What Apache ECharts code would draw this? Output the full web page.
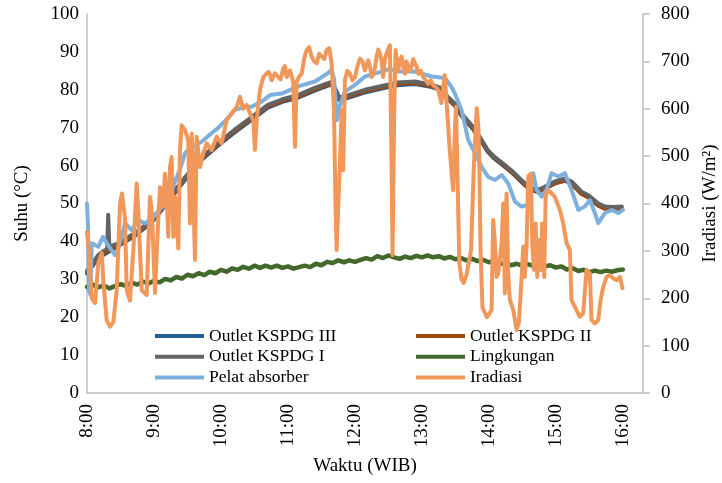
<!DOCTYPE html>
<html>
<head>
<meta charset="utf-8">
<script src="https://cdn.jsdelivr.net/npm/echarts@6/dist/echarts.min.js"></script>
<style>html,body{margin:0;padding:0;background:#fff}#c{width:722px;height:483px}</style>
</head>
<body>
<div id="c"></div>
<script>
// time in minutes after midnight
const xTickLabels = ['8:00','9:00','10:00','11:00','12:00','13:00','14:00','15:00','16:00'];

const out3T = [480,490,508,523,538,552,568,583,597,612,628,642,655,669,684,699,706,714,729,744,758,774,789,797,803,809,816,825,832,839,845,854,861,869,877,884,890,899,908,914,923,929,938,944,951,959];
const out3V = [31.5,35.6,38.8,41.5,45,50.2,56.3,61.6,65.2,68.7,72.2,75.3,76.8,77.9,79.8,81.4,77.3,77.9,79.3,80.3,81.2,81.5,80.7,79.9,77.6,75.9,72.9,69.9,67,63.6,61.8,59.7,58,55.7,53.7,53.1,53.9,55.3,56.1,55.3,52.6,51.7,49.5,48.8,48.7,48.8];

const out2T = [480,490,508,523,538,552,568,583,597,612,628,642,655,669,684,699,706,714,729,744,758,774,789,797,803,809,816,825,832,839,845,854,861,869,877,884,890,899,908,914,923,929,938,944,951,959];
const out2V = [31.9,36,39.1,41.8,45.3,50.5,56.6,61.9,65.5,69,72.5,75.6,77.1,78.2,80.1,81.7,77.6,78.2,79.6,80.6,81.5,81.8,80.9,80.1,77.8,76.1,73.1,70.1,67.1,63.8,62,59.9,58.1,55.8,53.6,53,54,55.3,56,55.2,52.5,51.6,49.4,48.6,48.5,48.6];

const out1T = [480,490,495,498,499,500,508,523,538,552,568,583,597,612,628,642,655,669,684,699,702,706,714,729,744,758,774,789,797,803,809,816,825,832,839,845,854,861,869,877,884,890,899,908,914,923,929,938,944,951,959];
const out1V = [32.3,36.4,37.5,38,47,38.6,39.5,42.2,45.6,50.9,57,62.3,65.9,69.4,72.9,76,77.5,78.6,80.5,82.1,80.5,78,78.6,80,81,81.9,82.2,81.3,80.5,78.2,76.5,73.5,70.5,67.5,64.1,62.3,60.2,58.5,56.2,54.2,53.6,54.4,55.8,56.6,55.8,53.1,52.2,50,49.2,49.1,49.2];

const lingT = [480,485,490,495,500,505,510,515,520,525,530,535,540,545,550,555,560,565,570,575,580,585,590,595,600,605,610,615,620,625,630,635,640,645,650,655,660,665,670,675,680,685,690,695,700,705,710,715,720,725,730,735,740,745,750,755,760,765,770,775,780,785,790,795,800,805,810,815,820,825,830,835,840,845,850,855,860,865,870,875,880,885,890,895,900,905,910,915,920,925,930,935,940,945,950,955,960];
const lingV = [28.0,28.6,27.9,28.4,27.6,28.2,28.7,28.3,29.1,28.6,29.4,28.9,29.6,29.2,30.1,29.7,30.6,30.2,31.2,30.8,31.6,31.1,32.0,31.6,32.5,32.0,32.9,32.5,33.3,32.8,33.6,33.0,33.6,33.1,33.6,33.0,33.4,32.8,33.2,33.6,33.2,34.1,33.7,34.6,34.3,35.0,34.5,35.0,34.6,35.1,35.6,35.2,36.1,35.6,36.3,35.8,35.4,36.0,35.6,36.2,35.8,36.3,35.8,36.1,35.5,35.9,35.3,35.6,35.0,35.4,34.8,35.1,34.5,34.8,34.0,34.3,33.7,34.1,33.6,34.0,33.5,33.9,33.4,33.7,33.1,33.4,32.6,32.9,32.2,32.5,31.9,32.3,31.9,32.3,32.0,32.4,32.6];

const pelatT = [480,480.9,481.8,483.1,484.2,490.1,494.3,498.8,505.1,507.8,514,520,525.7,531.9,538.2,545.4,552.5,558.8,563.3,567.8,573.8,582.7,591.7,597.3,604.5,612.5,621.5,627.5,636.4,643.9,654.4,669,684.2,695.8,699.1,701.2,703.9,706.6,711,720,729,743.9,751.3,758.5,773.7,788.7,800.6,806,809.5,815.5,821.4,827.5,833.4,839.4,845.4,851.4,857.3,863.3,869.3,875.2,879.7,882.7,887.2,891.6,896.1,902.1,908,914,920,926,930.4,934.9,937.9,944,949.9,955.9,960];
const pelatV = [50,44,27,26,39.5,38.6,41.2,39,36.4,37.7,44.8,43,45.6,44.8,46,48.5,51,55.8,59,63.3,65,66.3,68.6,69.9,72,74.7,75.5,75.5,76.9,78.6,79,80.9,82.2,84.4,85.2,83,72,76,79.5,81.3,83.5,84.8,85.5,84.8,84.8,83.5,83.1,81,79,74.7,66.8,63.3,59.7,57,56.2,57.5,55.3,50.5,49.2,49.6,58,53.6,51.8,53.6,58,57.1,58,53.6,48.3,49.2,50.9,47.5,44.8,47.5,48.3,47.5,48.3];

const iradT = [480,481.8,484.2,487.2,490.1,493.2,494.6,497.6,500.6,503.6,506.6,509.6,511.3,514,515.6,518.5,521.5,524.5,525.9,529,533.5,536.4,538.2,540.9,543.9,545.4,548.3,549.8,551.4,552.8,554.3,555.8,557.3,558.8,561.8,563.3,564.8,567.8,570.7,572.2,573.8,574.9,576.7,578.2,581.2,584.1,587.2,591.7,596.1,600.6,605.1,609.6,614.1,617,620,623,626,628.9,630.4,632,634.9,637.9,642.4,644,645.4,648.3,651.3,653.5,655.8,657.3,658.8,660.3,661.8,663.2,664.7,666.3,667.8,670,672.3,674.5,676.7,679,681.2,683.5,685.7,688,690.2,692.5,694.7,697,699.1,701.2,702.7,703.6,705,706.6,708.1,709.5,711,713.2,715.5,717.7,720,722.3,724.5,726.7,728.9,731.9,733.4,734.9,737.1,739.4,740.9,742.4,743.9,745.3,746.8,748.4,750,751.3,752.7,753.7,755.2,756.4,758.8,760.3,761.8,763.3,764.8,766.2,767.7,769.2,770.8,772.2,773.7,775.2,776.7,779,781.2,783.4,785.6,787.9,790.1,792.3,794.6,797.4,800.4,802.5,804.9,807.9,809.4,810.5,812,813.5,815.5,817.3,820,824,826.5,829.1,830.6,831.5,832.5,834.2,838.2,842.4,843.8,845.4,846.9,848.3,851.4,852.8,854.3,855.8,857.3,858.8,861.8,864.8,866.9,869.3,870.7,872.2,873.8,875.2,877.6,878.8,880.3,881.8,883.3,884.8,886.6,887.7,889.5,890.8,892.2,894.6,899.1,903.6,906.5,909.6,912.5,914,917,921.5,924.4,927.5,930.4,931.9,934.9,937.9,940,942.4,945.4,948.4,951.3,954.4,957.3,959.7];
const iradV = [340,300,200,190,274,295,238,154,140,150,217,400,421,370,217,195,300,442,386,217,207,414,380,211,372,435,393,463,414,330,477,498,330,414,305,513,565,555,534,358,548,450,281,541,477,506,527,513,541,527,576,590,604,625,600,608,590,576,513,576,639,667,678,672,660,675,667,662,685,690,667,663,681,684,657,520,657,668,674,705,724,730,710,700,696,716,710,705,724,728,696,597,386,302,302,492,597,470,660,680,674,660,667,690,706,700,681,702,690,667,675,710,725,717,700,667,705,717,720,734,500,291,600,724,681,700,710,690,674,700,696,680,689,705,696,690,674,680,667,660,653,660,650,645,639,612,671,600,513,428,548,604,443,274,240,232,250,302,480,601,560,470,302,181,160,175,365,316,245,252,316,400,210,421,245,196,175,133,150,245,309,245,316,457,463,316,260,358,245,323,260,358,245,414,428,425,414,386,358,316,302,196,182,161,168,260,252,154,147,154,196,224,245,249,242,238,245,221];

const seriesNames = ['Outlet KSPDG III','Outlet KSPDG II','Outlet KSPDG I','Lingkungan','Pelat absorber','Iradiasi'];
const colors = ['#255E91','#9E480E','#636363','#43682B','#7EB0DE','#F1975A'];

function pairs(t, v){ return t.map((x,i)=>[x, v[i]]); }

const font = 'Liberation Serif, Times New Roman, serif';
const chart = echarts.init(document.getElementById('c'), null, {renderer:'canvas'});

function mk(i, t, v, axis, w){
  return {name: seriesNames[i], type:'line', yAxisIndex: axis, data: pairs(t,v), showSymbol:false, symbol:'none',
    lineStyle:{color: colors[i], width: w, join:'round', cap:'round'}, itemStyle:{color: colors[i]},
    emphasis:{disabled:true}, animation:false, z: 2+i};
}

chart.setOption({
  animation:false,
  grid:{left:87, right:79, top:14, bottom:90, outerBoundsMode:'none', containLabel:false},
  legend:[
    {left:155, top:327, padding:0, orient:'vertical', itemWidth:49, itemHeight:4, itemGap:2.8, icon:'rect',
     data:['Outlet KSPDG III','Outlet KSPDG I','Pelat absorber'],
     textStyle:{fontFamily:font, fontSize:17.5, color:'#000', lineHeight:16}},
    {left:416, top:327, padding:0, orient:'vertical', itemWidth:49, itemHeight:4, itemGap:2.8, icon:'rect',
     data:['Outlet KSPDG II','Lingkungan','Iradiasi'],
     textStyle:{fontFamily:font, fontSize:17.5, color:'#000', lineHeight:16}}
  ],
  xAxis:{type:'value', min:480, max:978, interval:60,
    name:'Waktu (WIB)', nameLocation:'middle', nameGap:64,
    nameTextStyle:{fontFamily:font, fontSize:19, color:'#000'},
    axisLine:{show:true, lineStyle:{color:'#BFBFBF', width:1.5}},
    axisTick:{show:false}, splitLine:{show:false},
    axisLabel:{rotate:90, margin:11, fontFamily:font, fontSize:19, color:'#000', showMaxLabel:false,
      formatter:function(v){ const k=Math.round((v-480)/60); return (Math.abs(v-480-k*60)<0.01 && k>=0 && k<xTickLabels.length) ? xTickLabels[k] : ''; }}
  },
  yAxis:[
    {type:'value', min:0, max:100, interval:10, position:'left',
     name:'Suhu (°C)', nameLocation:'middle', nameGap:55, nameRotate:90,
     nameTextStyle:{fontFamily:font, fontSize:19, color:'#000'},
     axisLine:{show:true, lineStyle:{color:'#BFBFBF', width:1.5}},
     axisTick:{show:false}, splitLine:{show:false},
     axisLabel:{margin:8, fontFamily:font, fontSize:19, color:'#000'}},
    {type:'value', min:0, max:800, interval:100, position:'right',
     name:'Iradiasi (W/m²)', nameLocation:'middle', nameGap:57, nameRotate:90,
     nameTextStyle:{fontFamily:font, fontSize:19, color:'#000'},
     axisLine:{show:true, lineStyle:{color:'#BFBFBF', width:1.5}},
     axisTick:{show:true, length:7, lineStyle:{color:'#BFBFBF', width:1.5}}, splitLine:{show:false},
     axisLabel:{margin:18, fontFamily:font, fontSize:19, color:'#000'}}
  ],
  series:[
    mk(0, out3T, out3V, 0, 4),
    mk(1, out2T, out2V, 0, 4),
    mk(2, out1T, out1V, 0, 4),
    mk(3, lingT, lingV, 0, 4.5),
    mk(4, pelatT, pelatV, 0, 4),
    mk(5, iradT, iradV, 1, 4)
  ]
});
</script>
</body>
</html>
